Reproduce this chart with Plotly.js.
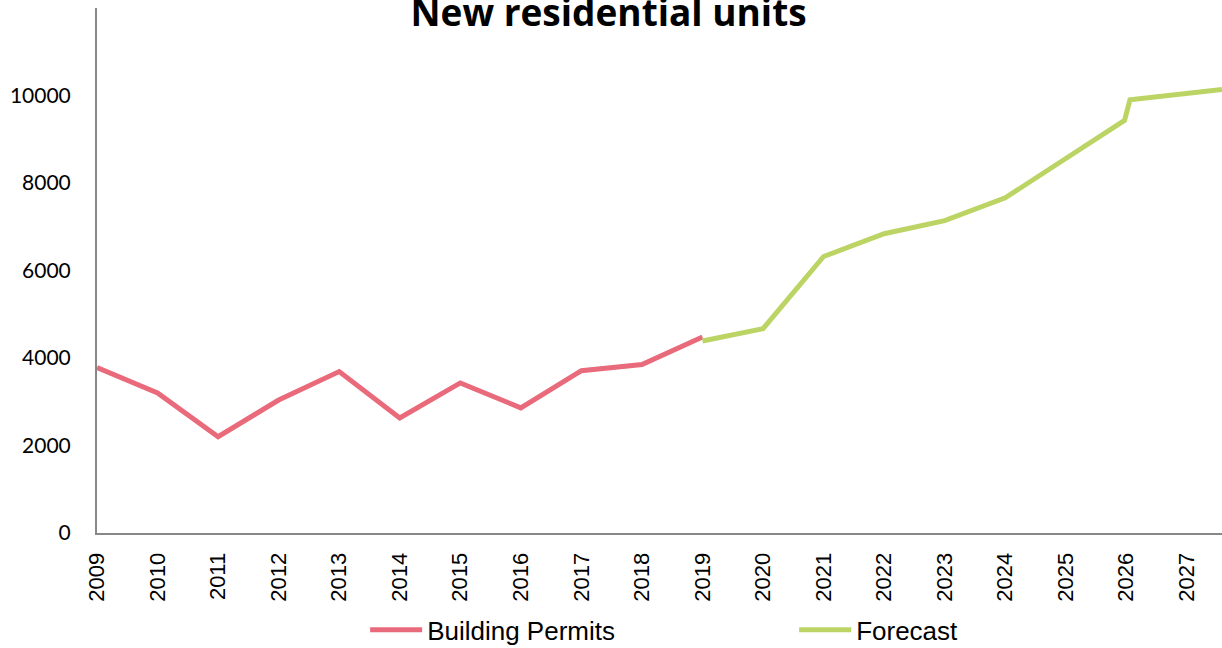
<!DOCTYPE html>
<html>
<head>
<meta charset="utf-8">
<script src="https://cdn.plot.ly/plotly-3.0.1.min.js"></script>
<style>
html,body{margin:0;padding:0;background:#fff;}
#chart{width:1222px;height:648px;}
</style>
</head>
<body>
<div id="chart"></div>
<script>
const permitYears = [2009, 2010, 2011, 2012, 2013, 2014, 2015, 2016, 2017, 2018, 2019];
const permitValues = [3780, 3200, 2200, 3040, 3690, 2630, 3430, 2860, 3710, 3850, 4480];
const forecastYears = [2019, 2020, 2021, 2022, 2023, 2024, 2025, 2025.97, 2026.06, 2027.58];
const forecastValues = [4390, 4670, 6320, 6840, 7140, 7660, 8560, 9430, 9900, 10140];
const tickYears = [2009,2010,2011,2012,2013,2014,2015,2016,2017,2018,2019,2020,2021,2022,2023,2024,2025,2026,2027];
const yTicks = [0, 2000, 4000, 6000, 8000, 10000];

const traces = [
  {x: permitYears, y: permitValues, name: 'Building Permits', type: 'scatter', mode: 'lines',
   line: {color: '#E96B7B', width: 5}},
  {x: forecastYears, y: forecastValues, name: 'Forecast', type: 'scatter', mode: 'lines',
   line: {color: '#BBD464', width: 5}}
];

const layout = {
  width: 1222, height: 648,
  margin: {l: 97, r: 0, t: 8, b: 115, autoexpand: false},
  paper_bgcolor: '#fff', plot_bgcolor: '#fff',
  title: {text: '<b>New residential units</b>', x: 0.498, xref: 'container', xanchor: 'center',
          y: 0.980, yref: 'container', yanchor: 'middle',
          font: {family: '"Open Sans", sans-serif', size: 37, color: '#000'}},
  xaxis: {range: [2009, 2027.58], tickmode: 'array', tickvals: tickYears, ticktext: tickYears.map(String),
          tickangle: -90, showgrid: false, zeroline: false, showline: true, linecolor: '#888', linewidth: 2,
          ticks: '', ticklabelstandoff: 9, automargin: false,
          tickfont: {family: '"Liberation Sans", Arial, sans-serif', size: 22, color: '#000'}},
  yaxis: {range: [0, 12000], tickmode: 'array', tickvals: yTicks, ticktext: yTicks.map(String),
          showgrid: false, zeroline: false, automargin: false,
          showline: true, linecolor: '#888', linewidth: 2, ticks: '', ticklabelstandoff: 20,
          tickfont: {family: 'Lato, sans-serif', size: 21, color: '#000'}},
  showlegend: true,
  legend: {orientation: 'h', xref: 'container', x: 0.2988, xanchor: 'left',
           yref: 'container', y: 0.028, yanchor: 'middle',
           font: {family: '"Liberation Sans", Arial, sans-serif', size: 26, color: '#000'},
           itemwidth: 52, tracegroupgap: 0, entrywidth: 362},
  hovermode: false
};

Plotly.newPlot('chart', traces, layout, {displayModeBar: false, staticPlot: true});
</script>
</body>
</html>
